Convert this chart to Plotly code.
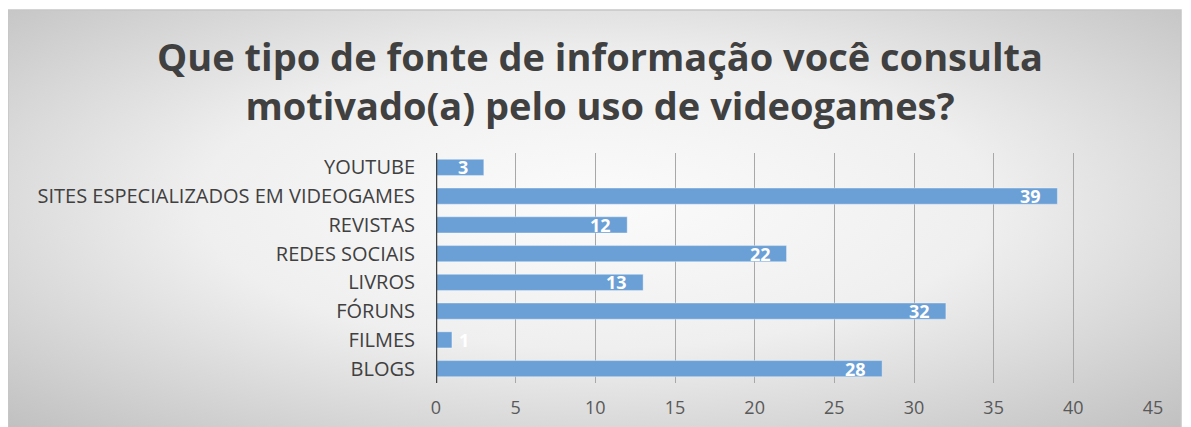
import base64
import plotly.graph_objects as go

categories = ["BLOGS", "FILMES", "FÓRUNS", "LIVROS", "REDES SOCIAIS", "REVISTAS",
              "SITES ESPECIALIZADOS EM VIDEOGAMES", "YOUTUBE"]
values = [28, 1, 32, 13, 22, 12, 39, 3]
x_ticks = [0, 5, 10, 15, 20, 25, 30, 35, 40, 45]
title_text = "Que tipo de fonte de informação você consulta<br>motivado(a) pelo uso de videogames?"

OFF = 8  # page body margin
W, H = 1191 - OFF, 427 - OFF
L = 436 - OFF
R = W - (1153 - OFF)
T = 153 - OFF
B = H - (383 - OFF)
pw, ph = W - L - R, H - T - B


def px_x(page_px):
    return (page_px - OFF - L) / pw


def px_y(page_py):
    return (H - B - (page_py - OFF)) / ph


svg = ('<svg xmlns="http://www.w3.org/2000/svg" width="400" height="150" viewBox="0 0 100 100" '
       'preserveAspectRatio="none"><defs><radialGradient id="g" cx="50%" cy="45%" r="75%">'
       '<stop offset="0" stop-color="#fbfbfb"/><stop offset="0.45" stop-color="#efefef"/>'
       '<stop offset="1" stop-color="#bdbdbd"/></radialGradient></defs>'
       '<rect x="0" y="0" width="100" height="100" fill="url(#g)"/></svg>')
src = "data:image/svg+xml;base64," + base64.b64encode(svg.encode()).decode()

fig = go.Figure()
fig.add_trace(go.Bar(
    x=values, y=categories, orientation="h",
    marker=dict(color="#6ba0d6", line=dict(color="rgba(255,255,255,0.35)", width=1)),
    width=0.56, hoverinfo="x+y",
))

annotations = []
for c, v in zip(categories, values):
    big = v >= 2
    annotations.append(dict(x=v, y=c, text="<b>%d</b>" % v,
                            xanchor="right" if big else "left", xshift=-14 if big else 5,
                            showarrow=False, xref="x", yref="y",
                            font=dict(color="white", size=18, family="Open Sans")))

annotations.append(dict(x=px_x(600), y=px_y(80), xref="paper", yref="paper",
                        text="<b>" + title_text + "</b>", showarrow=False,
                        xanchor="center", yanchor="middle", align="center",
                        font=dict(family="Open Sans", size=38, color="#404040")))

fig.update_layout(
    width=W, height=H,
    margin=dict(l=L, r=R, t=T, b=B, autoexpand=False),
    paper_bgcolor="white",
    plot_bgcolor="rgba(0,0,0,0)",
    showlegend=False,
    xaxis=dict(range=[0, 45], tickvals=x_ticks, showgrid=True, gridcolor="#a8a8a8", gridwidth=1,
               zeroline=False, showline=False, ticks="", ticklabelstandoff=12,
               tickfont=dict(family="Open Sans", size=18, color="#595959"), fixedrange=True),
    yaxis=dict(categoryorder="array", categoryarray=categories, showgrid=False, zeroline=False,
               showline=False, ticks="", ticklabelstandoff=20,
               tickfont=dict(family="Open Sans", size=20, color="#404040")),
    images=[dict(source=src, xref="paper", yref="paper", x=px_x(8), y=px_y(10),
                 sizex=px_x(1181) - px_x(8), sizey=px_y(10) - px_y(440),
                 sizing="stretch", layer="below", xanchor="left", yanchor="top")],
    shapes=[
        dict(type="rect", xref="paper", yref="paper", x0=px_x(8), x1=px_x(1181),
             y0=px_y(440), y1=px_y(10), line=dict(color="#c6c6c6", width=1.5),
             fillcolor="rgba(0,0,0,0)", layer="below"),
        dict(type="line", xref="x", yref="paper", x0=0, x1=0, y0=0, y1=1,
             line=dict(color="#404040", width=2.5), layer="above"),
    ],
    annotations=annotations,
)

fig.write_html("out.html")
